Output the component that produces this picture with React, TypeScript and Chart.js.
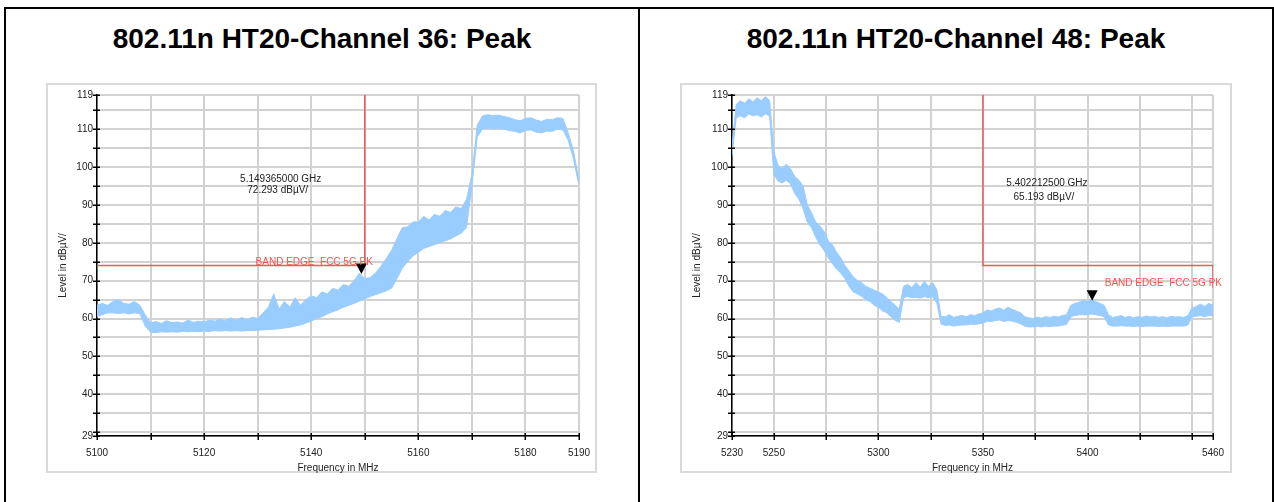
import React, { useEffect, useRef } from 'react';
import { Chart, registerables } from 'chart.js';

Chart.register(...registerables);

const FONT = '"Liberation Sans", Arial, Helvetica, sans-serif';

// ---------- Shared axis data ----------
const yTicks = [29, 30, 35, 40, 45, 50, 55, 60, 65, 70, 75, 80, 85, 90, 95, 100, 105, 110, 115, 119];
const yLabels = [29, 40, 50, 60, 70, 80, 90, 100, 110, 119];
const yTitle = 'Level in dBµV/';
const xTitle = 'Frequency in MHz';

// ---------- Channel 36 (left) ----------
const ch36Title = '802.11n HT20-Channel 36: Peak';
const ch36Start = 5100; // MHz, first sample
const ch36Step = 1; // MHz between samples
const ch36Hi = [
  63.5, 64, 63.5, 64.5, 65, 64, 63.8, 64.5, 63.5, 61,
  58.8, 59.2, 58.7, 59.4, 58.9, 59.1, 58.8, 59.6, 59, 59.3,
  59.1, 59.6, 59.3, 59.8, 59.4, 60.2, 59.5, 60.3, 59.6, 60.4,
  60, 61.5, 63, 66.5, 62.5, 64.5, 63, 65.5, 63.5, 65,
  66, 65.5, 67, 66.5, 68, 67.5, 69, 68.5, 70, 72,
  70.5, 70.8, 72, 73.8, 75.8, 78, 81, 84, 84.2, 85.5,
  85.5, 87, 86, 87.5, 87, 88.5, 88, 89.5, 89, 91.5,
  98, 111, 113.5, 113.8, 113.5, 113.7, 113.3, 113, 112.5, 112.2,
  112.8, 113, 112.4, 112, 112.6, 112.5, 113, 112.8, 109, 104,
  96.5,
];
const ch36Lo = [
  60.5, 61, 61.5, 61.5, 61.3, 61.5, 61.2, 61.5, 61.3, 58,
  56.4, 56.3, 56.5, 56.4, 56.5, 56.4, 56.6, 56.5, 56.6, 56.5,
  56.7, 56.6, 56.8, 56.7, 56.8, 56.7, 56.8, 56.7, 56.8, 56.8,
  56.9, 57, 57.1, 57.2, 57.3, 57.5, 57.7, 58, 58.3, 58.8,
  59.3, 60, 60.5, 61.2, 61.8, 62.3, 63, 63.5, 64, 64.6,
  65.2, 65.8, 66.3, 66.8, 67.3, 68, 70.5, 73.3, 75, 76.5,
  77.5, 78.5, 79, 79.5, 80, 80.5, 81, 81.8, 82.5, 84,
  95, 108, 110, 110.3, 110, 110.3, 110, 109.6, 109.4, 109,
  109.6, 109.8, 109.2, 109, 109.5, 109.4, 110, 109.8, 107, 102,
  95,
];
const ch36XMin = 5100;
const ch36XMax = 5190;
const ch36XTicks = [5100, 5110, 5120, 5130, 5140, 5150, 5160, 5170, 5180, 5190];
const ch36XLabels = [5100, 5120, 5140, 5160, 5180, 5190];
const ch36LimitF = [5100, 5150, 5150];
const ch36LimitV = [74, 74, 119];
const ch36LimitText = 'BAND EDGE  FCC 5G PK';
const ch36LimitTextAt = [5151.5, 74.1];
const ch36Marker = [5149.365, 72.293];
const ch36MarkerText = ['5.149365000 GHz', '72.293 dBµV/'];
const ch36MarkerTextAt = [5134.3, 96.8, 93.9];

// ---------- Channel 48 (right) ----------
const ch48Title = '802.11n HT20-Channel 48: Peak';
const ch48Start = 5230;
const ch48Step = 2;
const ch48Hi = [
  105.5, 116.5, 117.5, 116.8, 118, 117.2, 118.3, 117.5, 118.6, 117.5,
  104, 100.5, 99.5, 100.8, 99.5, 97.5, 96.5, 95, 90, 88,
  85.5, 84.5, 83, 80.5, 79.5, 77.5, 76, 74, 72.5, 71,
  70, 69.5, 68.5, 68, 67.5, 67, 66.5, 65.5, 64.5, 63.5,
  62.5, 68.5, 69, 68.2, 69.5, 68.3, 69.8, 68.5, 69.5, 67.5,
  60.5, 60.5, 61, 60.3, 60.6, 60.8, 60.5, 61, 60.8, 61.2,
  61.5, 62.3, 62, 62.5, 62.8, 62.2, 63, 62.4, 62, 61.5,
  60.5, 60.2, 60, 60.4, 60.1, 60.5, 60.3, 60.6, 60.4, 60.8,
  61, 63.5, 64, 64.3, 64.8, 64.5, 65.2, 64.5, 64, 63.5,
  61, 60.3, 60.5, 60.8, 60.3, 60.6, 60.2, 60.5, 60.3, 60.7,
  60.4, 60.6, 60.3, 60.5, 60.2, 60.6, 60.4, 60.5, 60.3, 60.8,
  62.8, 63.2, 63.8, 63.2, 64, 63.5,
];
const ch48Lo = [
  103, 113, 113.5, 113, 114, 113.5, 113.8, 113.2, 114, 113.5,
  98, 96.3, 95.8, 96.5, 95.5, 93, 91.5, 89, 85.5, 84,
  81.5, 79.5, 78, 76, 74.5, 73, 72, 70.5, 68.5, 67,
  66.5, 65.8, 65, 64.5, 63.5, 63, 62, 61.5, 60.5, 59.5,
  59, 65.5, 65.8, 65.5, 65.6, 65.4, 65.8, 65.5, 65.7, 64,
  58.5, 58.2, 58.3, 58, 58.2, 58.3, 58.3, 58.5, 58.4, 58.6,
  58.8, 59.3, 59.2, 59.5, 59.6, 59.2, 59.5, 59.3, 59, 58.6,
  58, 57.8, 57.8, 57.9, 57.8, 58, 57.9, 58, 58, 58.2,
  58.5, 60.5, 60.8, 61, 61, 61, 61.2, 61, 60.8, 60.5,
  58.3, 58, 58, 58.1, 58, 58, 57.9, 58, 57.9, 58,
  58, 58, 57.9, 58, 57.9, 58, 58, 58, 58, 58.3,
  60.5, 60.6, 60.8, 60.5, 60.8, 60.7,
];
const ch48XMin = 5230;
const ch48XMax = 5460;
const ch48XTicks = [5230, 5250, 5275, 5300, 5325, 5350, 5375, 5400, 5425, 5450, 5460];
const ch48XLabels = [5230, 5250, 5300, 5350, 5400, 5460];
const ch48LimitF = [5350, 5350, 5460, 5460];
const ch48LimitV = [119, 74, 74, 68.1];
const ch48LimitText = 'BAND EDGE  FCC 5G PK';
const ch48LimitTextAt = [5464.3, 68.7];
const ch48Marker = [5402.2125, 65.193];
const ch48MarkerText = ['5.402212500 GHz', '65.193 dBµV/'];
const ch48MarkerTextAt = [5380.6, 95.7, 92.0];

const TRACE = '#99ccff';
const LIMIT = 'rgb(240,88,88)';
const LIMIT_TEXT = 'rgb(255,80,80)';

const overlayPlugin = {
  id: 'overlay',
  afterDatasetsDraw(chart: any, _args: any, opts: any) {
    const { ctx, chartArea, scales } = chart;
    const x = scales.x;
    const y = scales.y;
    ctx.save();
    // tick marks crossing the axes
    ctx.strokeStyle = '#000';
    ctx.lineWidth = 1.5;
    ctx.beginPath();
    y.ticks.forEach((t: any) => {
      const py = Math.round(y.getPixelForValue(t.value)) + 0.25;
      ctx.moveTo(chartArea.left - 4, py);
      ctx.lineTo(chartArea.left + 3, py);
    });
    x.ticks.forEach((t: any) => {
      const px = Math.round(x.getPixelForValue(t.value)) + 0.25;
      ctx.moveTo(px, chartArea.bottom - 3);
      ctx.lineTo(px, chartArea.bottom + 4);
    });
    ctx.stroke();

    // marker triangle
    const mx = x.getPixelForValue(opts.marker[0]);
    const my = y.getPixelForValue(opts.marker[1]);
    ctx.fillStyle = '#000';
    ctx.beginPath();
    ctx.moveTo(mx, my + 2);
    ctx.lineTo(mx - 5.5, my - 8.5);
    ctx.lineTo(mx + 5.5, my - 8.5);
    ctx.closePath();
    ctx.fill();

    // marker text
    ctx.font = `10px ${FONT}`;
    ctx.fillStyle = '#222';
    ctx.textAlign = 'center';
    ctx.textBaseline = 'middle';
    const tx = x.getPixelForValue(opts.markerTextAt[0]);
    ctx.fillText(opts.markerText[0], tx, y.getPixelForValue(opts.markerTextAt[1]));
    ctx.fillText(opts.markerText[1], tx - 3, y.getPixelForValue(opts.markerTextAt[2]));

    // limit label
    ctx.fillStyle = LIMIT_TEXT;
    ctx.textAlign = 'right';
    ctx.textBaseline = 'alphabetic';
    ctx.fillText(
      opts.limitText,
      x.getPixelForValue(opts.limitTextAt[0]),
      y.getPixelForValue(opts.limitTextAt[1])
    );
    ctx.restore();
  },
};

const zeroPadding = (s: any) => {
  s.paddingLeft = 0;
  s.paddingRight = 0;
  s.paddingTop = 0;
  s.paddingBottom = 0;
};

type PanelProps = {
  title: string;
  panelLeft: number;
  frameLeft: number;
  frameWidth: number;
  axisWidth: number;
  padRight: number;
  start: number;
  step: number;
  hi: number[];
  lo: number[];
  xMin: number;
  xMax: number;
  xTicks: number[];
  xLabels: number[];
  limitF: number[];
  limitV: number[];
  limitText: string;
  limitTextAt: number[];
  marker: number[];
  markerText: string[];
  markerTextAt: number[];
};

function SpectrumPanel(p: PanelProps) {
  const ref = useRef<HTMLCanvasElement>(null);
  useEffect(() => {
    if (!ref.current) return;
    const hiPts = p.hi.map((v, i) => ({ x: p.start + i * p.step, y: v }));
    const loPts = p.lo.map((v, i) => ({ x: p.start + i * p.step, y: v }));
    const limPts = p.limitF.map((f, i) => ({ x: f, y: p.limitV[i] }));
    const tickFont = { family: FONT, size: 10 };
    const chart = new Chart(ref.current, {
      type: 'line',
      data: {
        datasets: [
          { data: hiPts, borderColor: TRACE, backgroundColor: TRACE, borderWidth: 1, pointRadius: 0, fill: false, tension: 0 },
          { data: loPts, borderColor: TRACE, backgroundColor: TRACE, borderWidth: 1, pointRadius: 0, fill: '-1', tension: 0 },
          { data: limPts, borderColor: LIMIT, borderWidth: 1.5, pointRadius: 0, fill: false, tension: 0 },
        ],
      },
      options: {
        animation: false,
        responsive: false,
        devicePixelRatio: 1,
        layout: { padding: { top: 12, right: p.padRight, bottom: 0, left: 0 } },
        plugins: {
          legend: { display: false },
          tooltip: { enabled: false },
          overlay: {
            marker: p.marker,
            markerText: p.markerText,
            markerTextAt: p.markerTextAt,
            limitText: p.limitText,
            limitTextAt: p.limitTextAt,
          },
        } as any,
        scales: {
          x: {
            type: 'linear',
            min: p.xMin,
            max: p.xMax,
            afterBuildTicks: (s: any) => {
              s.ticks = p.xTicks.map((v) => ({ value: v }));
            },
            afterFit: (s: any) => {
              s.height = 37;
              zeroPadding(s);
            },
            ticks: {
              autoSkip: false,
              maxRotation: 0,
              minRotation: 0,
              padding: 11,
              color: '#222',
              font: tickFont,
              callback: (v: any) => (p.xLabels.includes(Number(v)) ? String(v) : ''),
            },
            grid: { color: '#d2d2d2', lineWidth: 2, drawTicks: false },
            border: { color: '#000', width: 1.5 },
            title: {
              display: true,
              text: xTitle,
              color: '#222',
              font: { family: FONT, size: 10, lineHeight: 1 },
              padding: { top: 0, bottom: 0 },
            },
          },
          y: {
            type: 'linear',
            min: 29,
            max: 119,
            afterBuildTicks: (s: any) => {
              s.ticks = yTicks.map((v) => ({ value: v }));
            },
            afterFit: (s: any) => {
              s.width = p.axisWidth;
              zeroPadding(s);
            },
            ticks: {
              autoSkip: false,
              padding: 4,
              color: '#222',
              font: tickFont,
              callback: (v: any) => (yLabels.includes(Number(v)) ? String(v) : ''),
            },
            grid: { color: '#d2d2d2', lineWidth: 2, drawTicks: false },
            border: { color: '#000', width: 1.5 },
            title: {
              display: true,
              text: yTitle,
              color: '#222',
              font: { family: FONT, size: 10, lineHeight: 1 },
              padding: { top: 12.5, bottom: 0 },
            },
          },
        },
      } as any,
      plugins: [overlayPlugin],
    });
    return () => chart.destroy();
  }, []);

  return (
    <>
      <div
        style={{
          position: 'absolute',
          left: p.panelLeft,
          top: 7,
          width: 636,
          height: 560,
          border: '2px solid #000',
          boxSizing: 'border-box',
        }}
      />
      <div
        style={{
          position: 'absolute',
          left: p.panelLeft,
          top: 25,
          width: 636,
          textAlign: 'center',
          fontFamily: FONT,
          fontWeight: 'bold',
          fontSize: 28,
          lineHeight: '28px',
          color: '#000',
          whiteSpace: 'nowrap',
        }}
      >
        {p.title}
      </div>
      <div
        style={{
          position: 'absolute',
          left: p.frameLeft,
          top: 83,
          width: p.frameWidth,
          height: 390,
          border: '2px solid #dadada',
          boxSizing: 'border-box',
        }}
      />
      <canvas
        ref={ref}
        width={p.frameWidth}
        height={390}
        style={{ position: 'absolute', left: p.frameLeft, top: 83, width: p.frameWidth, height: 390 }}
      />
    </>
  );
}

export default function App() {
  return (
    <div
      style={{
        position: 'absolute',
        left: 0,
        top: 0,
        width: 1274,
        height: 502,
        overflow: 'hidden',
        background: '#fff',
      }}
    >
      <SpectrumPanel
        title={ch36Title}
        panelLeft={4}
        frameLeft={46}
        frameWidth={551}
        axisWidth={51}
        padRight={18}
        start={ch36Start}
        step={ch36Step}
        hi={ch36Hi}
        lo={ch36Lo}
        xMin={ch36XMin}
        xMax={ch36XMax}
        xTicks={ch36XTicks}
        xLabels={ch36XLabels}
        limitF={ch36LimitF}
        limitV={ch36LimitV}
        limitText={ch36LimitText}
        limitTextAt={ch36LimitTextAt}
        marker={ch36Marker}
        markerText={ch36MarkerText}
        markerTextAt={ch36MarkerTextAt}
      />
      <SpectrumPanel
        title={ch48Title}
        panelLeft={638}
        frameLeft={680}
        frameWidth={552}
        axisWidth={52}
        padRight={19}
        start={ch48Start}
        step={ch48Step}
        hi={ch48Hi}
        lo={ch48Lo}
        xMin={ch48XMin}
        xMax={ch48XMax}
        xTicks={ch48XTicks}
        xLabels={ch48XLabels}
        limitF={ch48LimitF}
        limitV={ch48LimitV}
        limitText={ch48LimitText}
        limitTextAt={ch48LimitTextAt}
        marker={ch48Marker}
        markerText={ch48MarkerText}
        markerTextAt={ch48MarkerTextAt}
      />
    </div>
  );
}
